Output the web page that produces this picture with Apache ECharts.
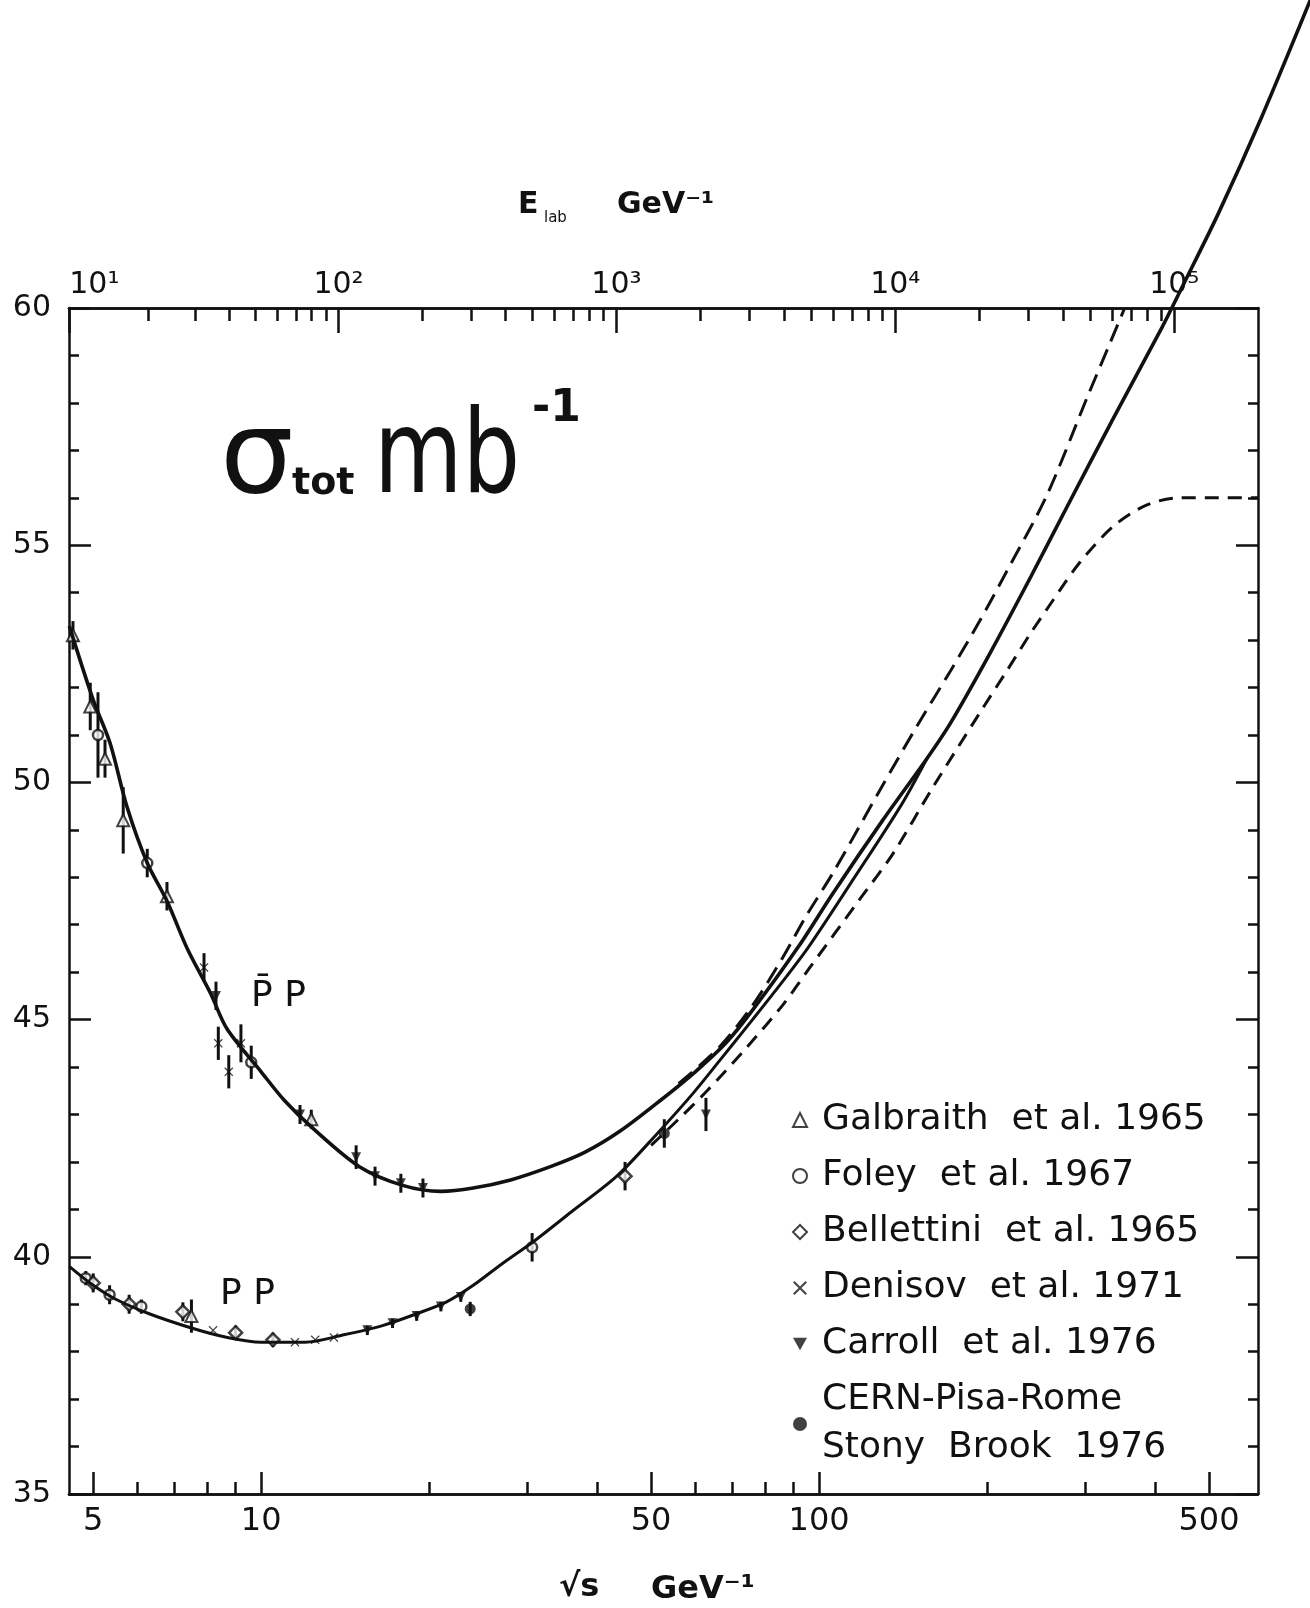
<!DOCTYPE html>
<html>
<head>
<meta charset="utf-8">
<style>
  html, body { margin: 0; padding: 0; background: #fff; }
  #chart { width: 1310px; height: 1608px; }
</style>
<script src="https://cdn.jsdelivr.net/npm/echarts@6/dist/echarts.min.js"></script>
</head>
<body>
<div id="chart"></div>
<script>
// sqrt(s) in GeV, sigma_tot in mb
const ppbarS   = [4.53, 5.0, 5.36, 5.75, 6.25, 6.78, 7.37, 8.11, 8.69, 10, 11, 12.4, 15, 18, 21, 24, 28, 33, 38, 44, 52, 60, 68, 76, 92, 106, 130, 156, 172, 202, 240, 278, 337, 413, 450, 520, 620, 760];
const ppbarSig = [53.3, 51.74, 50.83, 49.48, 48.3, 47.5, 46.5, 45.56, 44.8, 43.9, 43.3, 42.7, 41.9, 41.5, 41.38, 41.45, 41.62, 41.9, 42.2, 42.65, 43.3, 43.9, 44.5, 45.2, 46.55, 47.67, 49.2, 50.5, 51.25, 52.7, 54.35, 55.8, 57.68, 59.62, 60.5, 62.0, 64.0, 66.5];

const ppS   = [4.53, 5.0, 5.5, 6.3, 7.5, 8.7, 10, 12, 14, 16.5, 19, 21.5, 24, 27, 31, 36, 43.4, 51.3, 59.5, 66.5, 76, 86, 96, 113.6, 140, 156];
const ppSig = [39.8, 39.4, 39.1, 38.8, 38.5, 38.3, 38.2, 38.2, 38.35, 38.55, 38.8, 39.05, 39.4, 39.85, 40.35, 40.95, 41.7, 42.6, 43.45, 44.15, 45.0, 45.8, 46.55, 47.85, 49.5, 50.5];

// the two dashed bands at high energy
const upperS   = [56, 66, 76, 86, 95, 106, 128.6, 150, 172, 194, 217, 256, 302, 332, 353];
const upperSig = [43.65, 44.4, 45.3, 46.3, 47.2, 48.1, 49.84, 51.2, 52.35, 53.4, 54.45, 56.05, 58.1, 59.25, 60];
const lowerS   = [50, 56, 63, 74, 86, 96.3, 118, 135.7, 160, 194, 217, 239, 263, 294, 337, 387, 443, 520, 612];
const lowerSig = [42.35, 42.9, 43.5, 44.4, 45.3, 46.1, 47.52, 48.5, 49.9, 51.46, 52.35, 53.13, 53.85, 54.65, 55.4, 55.85, 56.0, 56.0, 56.0];

// measured points: [sqrt(s), sigma, error]
const galbraith  = [[4.6, 53.1, 0.3], [4.94, 51.6, 0.5], [5.25, 50.5, 0.4], [5.66, 49.2, 0.7], [6.78, 47.6, 0.3], [12.3, 42.9, 0.2], [7.5, 38.75, 0.35]];
const foley      = [[5.1, 51.0, 0.9], [6.25, 48.3, 0.3], [9.6, 44.1, 0.35], [4.85, 39.55, 0.15], [5.35, 39.2, 0.2], [6.1, 38.95, 0.15], [30.6, 40.2, 0.3]];
const bellettini = [[5.0, 39.45, 0.2], [5.8, 39.0, 0.2], [7.24, 38.84, 0.2], [9.0, 38.4, 0.15], [10.5, 38.25, 0.15], [44.9, 41.7, 0.3]];
const denisov    = [[7.9, 46.1, 0.3], [8.38, 44.5, 0.35], [8.75, 43.9, 0.35], [9.2, 44.5, 0.4], [8.2, 38.45, 0], [11.5, 38.2, 0], [12.5, 38.25, 0], [13.5, 38.3, 0]];
const carroll    = [[8.3, 45.5, 0.3], [11.74, 43.0, 0.2], [14.8, 42.1, 0.25], [16.0, 41.7, 0.2], [17.8, 41.55, 0.2], [19.5, 41.45, 0.2], [15.5, 38.45, 0.1], [17.2, 38.6, 0.1], [19.0, 38.75, 0.1], [21, 38.95, 0.1], [22.8, 39.15, 0.1], [62.7, 43.0, 0.35]];
const cern       = [[23.7, 38.9, 0.15], [52.8, 42.6, 0.3]];

// axis ticks
const bottomMajor = [5, 10, 50, 100, 500];
const bottomMinor = [6, 7, 8, 9, 20, 30, 40, 60, 70, 80, 90, 200, 300, 400];
const topMajorE = [1e1, 1e2, 1e3, 1e4, 1e5];
const topLabels = ['10¹', '10²', '10³', '10⁴', '10⁵'];
const topMinorMult = [2, 3, 4, 5, 6, 7, 8, 9];

const INK = '#111';
const FONT = '"DejaVu Sans", sans-serif';
const M_P = 0.938;
const lg = Math.log10;
const eToRoot = e => Math.sqrt(2 * M_P * e + 2 * M_P * M_P); // E_lab -> sqrt(s)
const X_MIN = lg(4.525), X_MAX = lg(612);
const Y_MIN = 35, Y_MAX = 60;

const toXY = (xs, ys) => xs.map((s, i) => [lg(s), ys[i]]);
const pts = arr => arr.map(p => [lg(p[0]), p[1]]);

const topMajorPos = topMajorE.map(e => lg(eToRoot(e)));
const topMinorPos = [];
topMajorE.forEach(e => topMinorMult.forEach(m => {
  const v = lg(eToRoot(e * m));
  if (v <= X_MAX) topMinorPos.push(v);
}));

// plot box, and a wider box (same scale) so the solid curve can run out past the frame
const box = { left: 69, top: 308, width: 1189, height: 1186 };
const wide = { left: 69, top: 0, width: 1310 - 69, height: 1494 };
const X_MAX_WIDE = X_MIN + (X_MAX - X_MIN) * wide.width / box.width;
const Y_MAX_WIDE = Y_MIN + (Y_MAX - Y_MIN) * wide.height / box.height;

const lineStyle = { color: INK, width: 2.5 };

function xAxisOf(grid, pos, values, len, fmt, extra) {
  return {
    gridIndex: grid, type: 'value', position: pos, min: X_MIN, max: X_MAX,
    axisLine: { show: true, onZero: false, lineStyle },
    axisTick: { show: true, inside: true, length: len, customValues: values, lineStyle },
    axisLabel: fmt ? Object.assign({ show: true, customValues: values, formatter: fmt, color: INK, fontFamily: FONT,
      showMinLabel: true, showMaxLabel: true, hideOverlap: false }, extra) : { show: false },
    splitLine: { show: false }
  };
}

function yAxisOf(pos, labels) {
  return {
    gridIndex: 0, type: 'value', position: pos, min: Y_MIN, max: Y_MAX, interval: 5,
    axisLine: { show: true, onZero: false, lineStyle },
    axisTick: { show: true, inside: true, length: 22, lineStyle },
    minorTick: { show: true, splitNumber: 5, length: 10, lineStyle },
    axisLabel: labels ? { show: true, fontSize: 30, margin: 18, color: INK, fontFamily: FONT } : { show: false },
    splitLine: { show: false }
  };
}

const errData = [].concat(galbraith, foley, bellettini, denisov, carroll, cern)
  .filter(p => p[2] > 0)
  .map(p => [lg(p[0]), p[1], p[2]]);

const chart = echarts.init(document.getElementById('chart'));

const option = {
  animation: false,
  backgroundColor: '#fff',
  grid: [Object.assign({}, box), Object.assign({}, box), Object.assign({}, wide)],
  xAxis: [
    xAxisOf(0, 'bottom', bottomMajor.map(lg), 22, v => String(Math.round(Math.pow(10, v))), { fontSize: 32, margin: 12 }),
    xAxisOf(0, 'top', topMajorPos, 25, v => topLabels[topMajorPos.findIndex(p => Math.abs(p - v) < 1e-6)], { fontSize: 30, margin: 8, alignMinLabel: 'left' }),
    xAxisOf(1, 'bottom', bottomMinor.map(lg), 12, null),
    xAxisOf(1, 'top', topMinorPos, 13, null),
    { gridIndex: 2, type: 'value', min: X_MIN, max: X_MAX_WIDE, show: false }
  ],
  yAxis: [
    yAxisOf('left', true),
    yAxisOf('right', false),
    { gridIndex: 1, type: 'value', min: Y_MIN, max: Y_MAX, show: false },
    { gridIndex: 2, type: 'value', min: Y_MIN, max: Y_MAX_WIDE, show: false }
  ],
  legend: {
    orient: 'vertical', left: 787, top: 1091, itemWidth: 14, itemHeight: 14, itemGap: 8,
    selectedMode: false,
    data: ['Galbraith  et al. 1965', 'Foley  et al. 1967', 'Bellettini  et al. 1965', 'Denisov  et al. 1971', 'Carroll  et al. 1976', 'CERN-Pisa-Rome\nStony  Brook  1976'],
    textStyle: { fontSize: 36, lineHeight: 48, color: INK, fontFamily: FONT, padding: [0, 0, 0, 10] }
  },
  series: [
    { type: 'line', name: 'ppbar', xAxisIndex: 4, yAxisIndex: 3, data: toXY(ppbarS, ppbarSig), smooth: 0.3, symbol: 'none', clip: false,
      lineStyle: { color: INK, width: 3.6 } },
    { type: 'line', name: 'pp', data: toXY(ppS, ppSig), smooth: 0.3, symbol: 'none',
      lineStyle: { color: INK, width: 3 } },
    { type: 'line', name: 'upper', data: toXY(upperS, upperSig), smooth: 0.3, symbol: 'none',
      lineStyle: { color: INK, width: 3, type: [18, 9] } },
    { type: 'line', name: 'lower', data: toXY(lowerS, lowerSig), smooth: 0.3, symbol: 'none',
      lineStyle: { color: INK, width: 3, type: [14, 9] } },
    { type: 'custom', name: 'errors', silent: true, data: errData,
      renderItem: (params, api) => {
        const x = api.value(0), y = api.value(1), e = api.value(2);
        const lo = api.coord([x, y - e]), hi = api.coord([x, y + e]);
        return { type: 'line', shape: { x1: lo[0], y1: lo[1], x2: hi[0], y2: hi[1] }, style: { stroke: INK, lineWidth: 3 } };
      } },
    { type: 'scatter', name: 'Galbraith  et al. 1965', data: pts(galbraith), symbol: 'triangle', symbolSize: 12,
      itemStyle: { color: '#fff', borderColor: INK, borderWidth: 2 } },
    { type: 'scatter', name: 'Foley  et al. 1967', data: pts(foley), symbol: 'circle', symbolSize: 10,
      itemStyle: { color: '#fff', borderColor: INK, borderWidth: 2.5 } },
    { type: 'scatter', name: 'Bellettini  et al. 1965', data: pts(bellettini), symbol: 'diamond', symbolSize: 13,
      itemStyle: { color: '#fff', borderColor: INK, borderWidth: 2.5 } },
    { type: 'scatter', name: 'Denisov  et al. 1971', data: pts(denisov),
      symbol: 'path://M0,1 L1,0 L5,4 L9,0 L10,1 L6,5 L10,9 L9,10 L5,6 L1,10 L0,9 L4,5Z', symbolSize: 9,
      itemStyle: { color: INK } },
    { type: 'scatter', name: 'Carroll  et al. 1976', data: pts(carroll), symbol: 'path://M0,0 L10,0 L5,9Z', symbolSize: 10,
      itemStyle: { color: INK } },
    { type: 'scatter', name: 'CERN-Pisa-Rome\nStony  Brook  1976', data: pts(cern), symbol: 'circle', symbolSize: 11,
      itemStyle: { color: INK } }
  ],
  graphic: [
    // sigma_tot mb^-1
    { type: 'text', x: 220, y: 462, style: { text: 'σ', font: 'normal 116px ' + FONT, fill: INK, verticalAlign: 'middle' } },
    { type: 'text', x: 292, y: 484, style: { text: 'tot', font: 'bold 38px ' + FONT, fill: INK, verticalAlign: 'middle' } },
    { type: 'text', x: 374, y: 462, scaleX: 0.79, style: { text: 'mb', font: 'normal 115px ' + FONT, fill: INK, verticalAlign: 'middle' } },
    { type: 'text', x: 532, y: 410, style: { text: '-1', font: 'bold 44px ' + FONT, fill: INK, verticalAlign: 'middle' } },
    // top axis title
    { type: 'text', x: 518, y: 205, style: { text: 'E', font: 'bold 30px ' + FONT, fill: INK, verticalAlign: 'middle' } },
    { type: 'text', x: 544, y: 218, style: { text: 'lab', font: 'normal 15px ' + FONT, fill: INK, verticalAlign: 'middle' } },
    { type: 'text', x: 617, y: 205, style: { text: 'GeV⁻¹', font: 'bold 30px ' + FONT, fill: INK, verticalAlign: 'middle' } },
    // bottom axis title
    { type: 'text', x: 559, y: 1588, style: { text: '√s', font: 'bold 32px ' + FONT, fill: INK, verticalAlign: 'middle' } },
    { type: 'text', x: 651, y: 1590, style: { text: 'GeV⁻¹', font: 'bold 32px ' + FONT, fill: INK, verticalAlign: 'middle' } },
    // curve labels
    { type: 'text', x: 251, y: 997, style: { text: 'P\u0304 P', font: 'normal 36px ' + FONT, fill: INK, verticalAlign: 'middle' } },
    { type: 'text', x: 220, y: 1295, style: { text: 'P P', font: 'normal 36px ' + FONT, fill: INK, verticalAlign: 'middle' } }
  ]
};

chart.setOption(option);
</script>
</body>
</html>
